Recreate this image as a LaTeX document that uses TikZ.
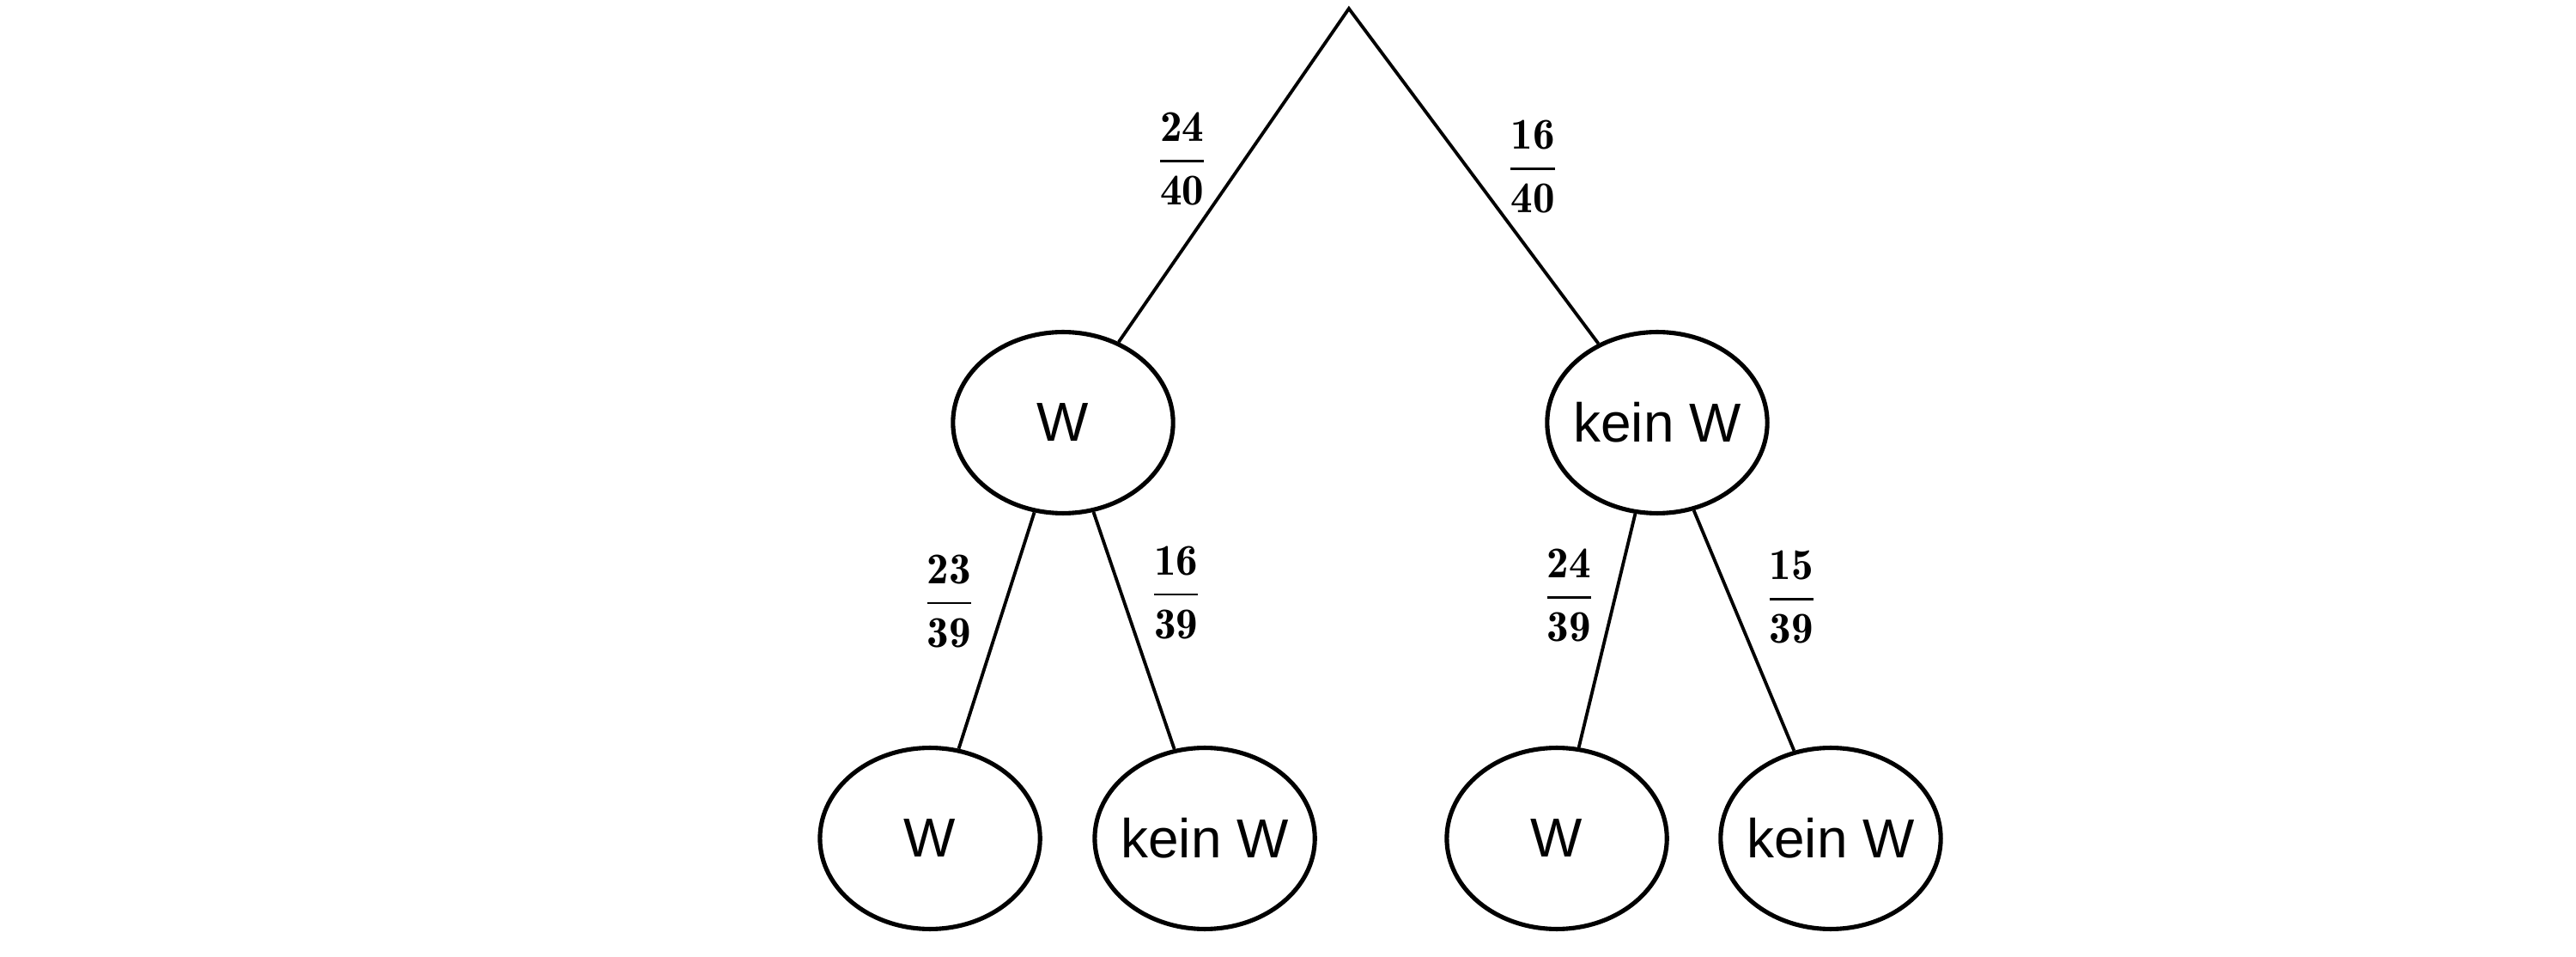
\documentclass[tikz,border=0pt]{standalone}
\usepackage{fontspec}
\setsansfont{Liberation Sans}
\usetikzlibrary{shapes.geometric}
\newcommand{\ev}[1]{\makebox[0pt]{#1}}
\newcommand{\pr}[2]{$\displaystyle\mathbf{\frac{#1}{#2}}$}
\begin{document}
\begin{tikzpicture}[line width=0.6pt,
  event/.style={draw, ellipse, line width=0.8pt, minimum width=1.41cm, minimum height=1.16cm, inner sep=0pt, font=\sffamily},
  prob/.style={inner sep=0pt, font=\footnotesize}]
\useasboundingbox (0,0) rectangle (16.5,6.127);
\coordinate (top) at (8.64,6.072);
\node[event] (w) at (6.809,3.421) {\ev{W}};
\node[event] (kw) at (10.615,3.421) {\ev{kein W}};
\node[event] (ww) at (5.957,0.759) {\ev{W}};
\node[event] (wk) at (7.717,0.759) {\ev{kein W}};
\node[event] (kww) at (9.972,0.759) {\ev{W}};
\node[event] (kwk) at (11.726,0.759) {\ev{kein W}};
\draw (w) -- node[prob, pos=0.549, left=0.21cm] {\pr{24}{40}} (top)
  -- node[prob, pos=0.472, right=0.23cm] {\pr{16}{40}} (kw);
\draw (w) -- node[prob, pos=0.375, left=0.17cm] {\pr{23}{39}} (ww);
\draw (w) -- node[prob, pos=0.34, right=0.16cm] {\pr{16}{39}} (wk);
\draw (kw) -- node[prob, pos=0.35, left=0.105cm] {\pr{24}{39}} (kww);
\draw (kw) -- node[prob, pos=0.362, right=0.2cm] {\pr{15}{39}} (kwk);
\end{tikzpicture}
\end{document}
